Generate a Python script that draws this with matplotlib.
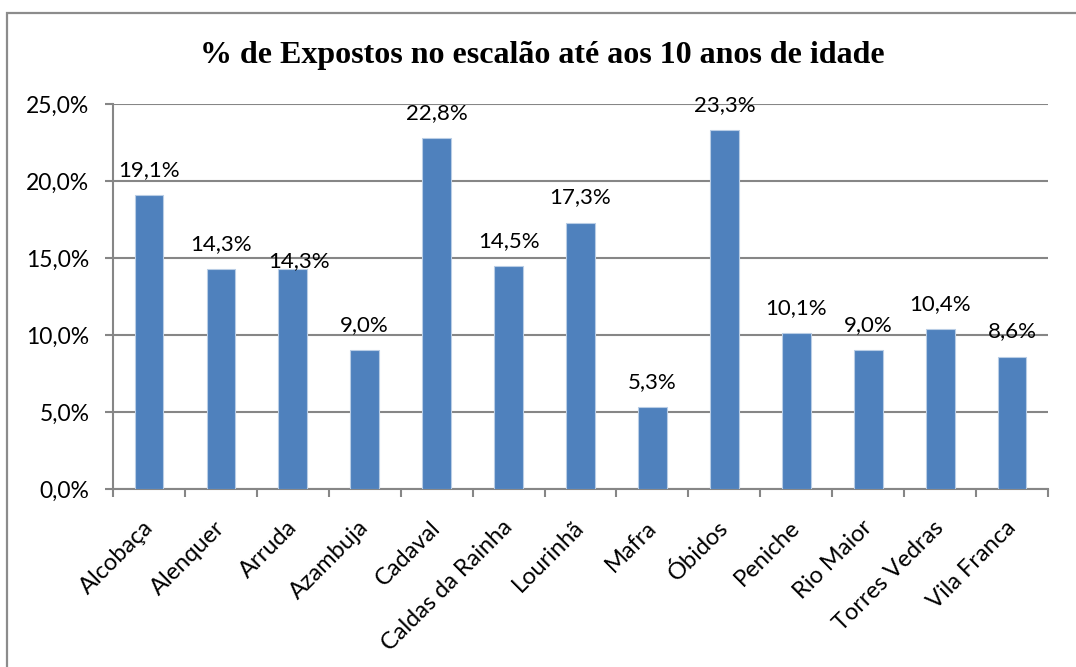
import matplotlib
matplotlib.use("Agg")
import matplotlib.pyplot as plt
import matplotlib.transforms as mtransforms
from matplotlib.patches import Rectangle
import numpy as np

# dados
concelhos = ["Alcobaça", "Alenquer", "Arruda", "Azambuja", "Cadaval",
             "Caldas da Rainha", "Lourinhã", "Mafra", "Óbidos", "Peniche",
             "Rio Maior", "Torres Vedras", "Vila Franca"]
percentagens = [19.1, 14.3, 14.3, 9.0, 22.8, 14.5, 17.3, 5.3, 23.3, 10.1, 9.0, 10.4, 8.6]
yticks = [0, 5, 10, 15, 20, 25]

# deslocamento manual de alguns rotulos (pixels)
label_dy = [0, 0, -17, 0, 0, 0, 0, 0, 0, 0, 0, 0, 0]
label_dx = [0, 0, 6, 0, 0, 0, 0, 0, 0, 0, 0, 0, 0]

plt.rcParams['font.family'] = ['Lato', 'DejaVu Sans']

fig = plt.figure(figsize=(10.76, 6.67), dpi=100)
ax = fig.add_axes([113 / 1076, 1 - 489 / 667, (1048 - 113) / 1076, (489 - 104) / 667])

grid_col = "#868686"
x = np.arange(len(concelhos))
ax.bar(x, percentagens, width=0.40, color="#4F81BD", edgecolor="#B9CDE5", linewidth=0.8, zorder=3)

for i, v in enumerate(percentagens):
    lbl = f"{v:.1f}%".replace(".", ",")
    ax.annotate(lbl, (x[i], v), xytext=(label_dx[i] * 0.72, (15 + label_dy[i]) * 0.72),
                textcoords="offset points", ha="center", va="bottom", fontsize=16, color="black")

ax.set_xlim(-0.5, len(concelhos) - 0.5)
ax.set_ylim(0, 25)
ax.set_yticks(yticks)
ax.set_yticklabels([f"{t:.1f}%".replace(".", ",") for t in yticks], fontsize=16.5)
ax.yaxis.grid(True, color=grid_col, linewidth=1.5, zorder=0)
ax.set_axisbelow(True)

ax.set_xticks(x)
ax.set_xticklabels(concelhos, rotation=45, ha="right", va="top", fontsize=17,
                   rotation_mode="anchor")
ax.tick_params(axis="x", which="major", length=0, pad=20)
shift = mtransforms.ScaledTranslation(-7 / 100, 0, fig.dpi_scale_trans)
for t in ax.get_xticklabels():
    t.set_transform(t.get_transform() + shift)
ax.set_xticks(np.arange(len(concelhos) + 1) - 0.5, minor=True)
ax.tick_params(axis="x", which="minor", length=6, width=1.5, color=grid_col)
ax.tick_params(axis="y", length=6, width=1.5, color=grid_col, pad=11)

for s in ["top", "right"]:
    ax.spines[s].set_visible(False)
for s in ["left", "bottom"]:
    ax.spines[s].set_color(grid_col)
    ax.spines[s].set_linewidth(1.5)

fig.text(542 / 1076, 1 - 56 / 667, "% de Expostos no escalão até aos 10 anos de idade",
         ha="center", va="center", fontsize=23, fontweight="bold", family="Liberation Serif")

# moldura do grafico
fig.patches.append(Rectangle((7 / 1076, -0.1), 1.2, 1 - 13 / 667 + 0.1, transform=fig.transFigure,
                             fill=False, edgecolor="#8C8C8C", linewidth=1.6))

fig.savefig("out.png", dpi=100, facecolor="white")
